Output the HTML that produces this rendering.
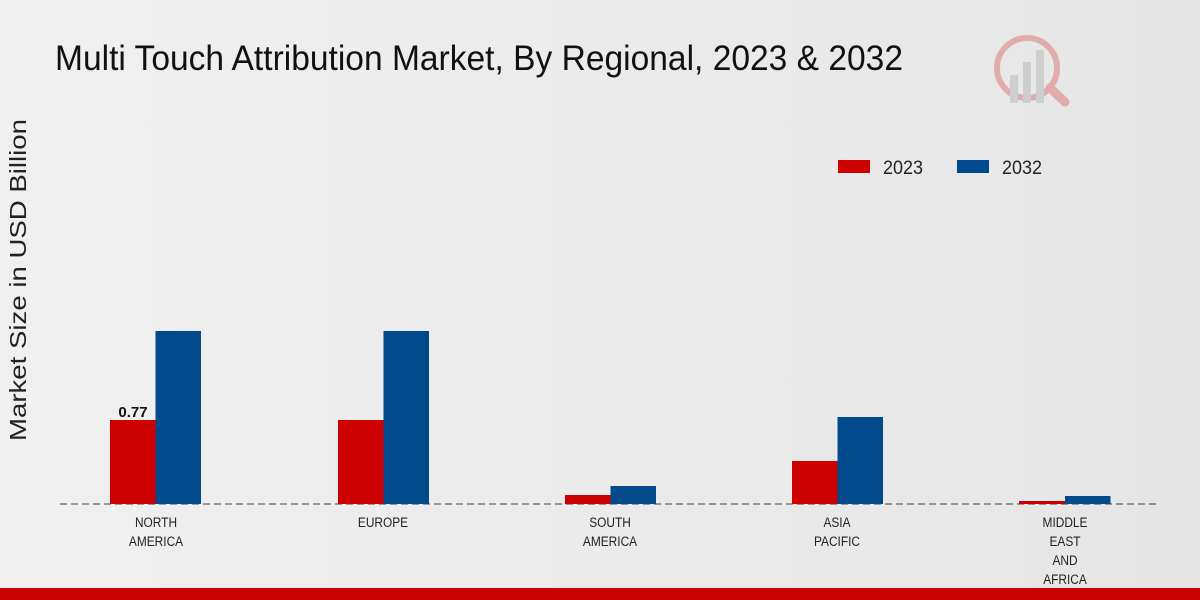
<!DOCTYPE html>
<html><head><meta charset="utf-8"><style>
body{margin:0;width:1200px;height:600px;overflow:hidden;background:linear-gradient(90deg,#f0f0f0,#e6e6e6);font-family:"Liberation Sans",sans-serif}
</style></head><body>
<svg width="1200" height="600" xmlns="http://www.w3.org/2000/svg" style="position:absolute;left:0;top:0">
<text x="55" y="70" font-size="35" fill="#111" textLength="848" lengthAdjust="spacingAndGlyphs" font-family="Liberation Sans, sans-serif">Multi Touch Attribution Market, By Regional, 2023 &amp; 2032</text>
<g opacity="0.25">
<circle cx="1027" cy="68" r="30" fill="none" stroke="#c00" stroke-width="6"/>
<rect x="1010" y="75" width="8" height="28" fill="#888"/><rect x="1023" y="62" width="8" height="41" fill="#888"/><rect x="1036" y="50" width="8" height="53" fill="#888"/>
<line x1="1050" y1="88" x2="1065" y2="102" stroke="#c00" stroke-width="9" stroke-linecap="round"/>
</g>
<text transform="translate(26,280) rotate(-90)" font-size="23" text-anchor="middle" fill="#222" textLength="322" lengthAdjust="spacingAndGlyphs">Market Size in USD Billion</text>
<rect x="838" y="160" width="32" height="13" fill="#c00"/><text x="883" y="174" font-size="19" fill="#222" textLength="40" lengthAdjust="spacingAndGlyphs">2023</text>
<rect x="957" y="160" width="32" height="13" fill="#004a8c"/><text x="1002" y="174" font-size="19" fill="#222" textLength="40" lengthAdjust="spacingAndGlyphs">2032</text>
<line x1="60" y1="504" x2="1160" y2="504" stroke="#444" stroke-width="1" stroke-dasharray="7,4"/>
<g fill="#c00">
<rect x="110" y="420" width="45.5" height="84"/><rect x="338" y="420" width="45.5" height="84"/><rect x="565" y="495" width="45.5" height="9"/><rect x="792" y="461" width="45.5" height="43"/><rect x="1019" y="501" width="46" height="3"/>
</g>
<g fill="#004a8c">
<rect x="155.5" y="331" width="45.5" height="173"/><rect x="383.5" y="331" width="45.5" height="173"/><rect x="610.5" y="486" width="45.5" height="18"/><rect x="837.5" y="417" width="45.5" height="87"/><rect x="1065" y="496" width="45.5" height="8"/>
</g>
<text x="133" y="417" font-size="15" font-weight="bold" text-anchor="middle" fill="#111">0.77</text>
<g font-size="14" fill="#222" text-anchor="middle">
<g transform="translate(156,0) scale(0.85,1)"><text x="0" y="527">NORTH</text><text x="0" y="546">AMERICA</text></g>
<g transform="translate(383,0) scale(0.85,1)"><text x="0" y="527">EUROPE</text></g>
<g transform="translate(610,0) scale(0.85,1)"><text x="0" y="527">SOUTH</text><text x="0" y="546">AMERICA</text></g>
<g transform="translate(837,0) scale(0.85,1)"><text x="0" y="527">ASIA</text><text x="0" y="546">PACIFIC</text></g>
<g transform="translate(1065,0) scale(0.85,1)"><text x="0" y="527">MIDDLE</text><text x="0" y="546">EAST</text><text x="0" y="565">AND</text><text x="0" y="584">AFRICA</text></g>
</g>
<rect x="0" y="588" width="1200" height="12" fill="#c00"/>
</svg>
</body></html>
